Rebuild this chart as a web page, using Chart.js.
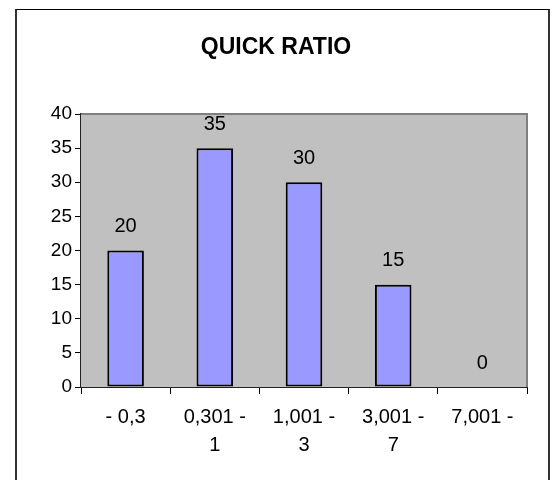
<!DOCTYPE html>
<html>
<head>
<meta charset="utf-8">
<script src="https://cdn.jsdelivr.net/npm/chart.js@4/dist/chart.umd.min.js"></script>
<style>
  html, body { margin: 0; padding: 0; background: #fff; }
  #wrap { position: relative; width: 552px; height: 480px; overflow: hidden; }
  #frame {
    position: absolute; left: 15px; top: 9px; width: 535px; height: 520px;
    box-sizing: border-box;
    border-top: 1px solid #000;
    border-left: 2px solid #333;
    border-right: 2px solid #333;
  }
  #chart { position: absolute; left: 0; top: 0; }
</style>
</head>
<body>
<div id="wrap">
  <div id="frame"></div>
  <canvas id="chart" width="552" height="480"></canvas>
</div>
<script>
// Quick ratio ranges and number of companies in each range
const categories = [["- 0,3"], ["0,301 -", "1"], ["1,001 -", "3"], ["3,001 -", "7"], ["7,001 -"]];
const counts = [20, 35, 30, 15, 0];
const yTicks = [0, 5, 10, 15, 20, 25, 30, 35, 40];

const FONT = "'Liberation Sans', Arial, sans-serif";

// Grey plot background with a darker top/right edge
const plotBackground = {
  id: 'plotBackground',
  beforeDatasetsDraw(chart) {
    const { ctx, chartArea: a } = chart;
    ctx.save();
    ctx.fillStyle = '#c0c0c0';
    ctx.fillRect(a.left, a.top, a.right - a.left, a.bottom - a.top);
    ctx.strokeStyle = '#808080';
    ctx.lineWidth = 2;
    ctx.beginPath();
    ctx.moveTo(a.left, a.top);
    ctx.lineTo(a.right, a.top);
    ctx.lineTo(a.right, a.bottom);
    ctx.stroke();
    ctx.restore();
  }
};

// Value printed above every bar
const valueLabels = {
  id: 'valueLabels',
  afterDatasetsDraw(chart) {
    const { ctx } = chart;
    const meta = chart.getDatasetMeta(0);
    ctx.save();
    ctx.font = '20px ' + FONT;
    ctx.fillStyle = '#000';
    ctx.textAlign = 'center';
    ctx.textBaseline = 'middle';
    meta.data.forEach((bar, i) => {
      ctx.fillText(String(counts[i]), bar.x, bar.y - 24);
    });
    ctx.restore();
  }
};

new Chart(document.getElementById('chart'), {
  type: 'bar',
  data: {
    labels: categories,
    datasets: [{
      data: counts,
      backgroundColor: '#9999ff',
      borderColor: '#000',
      borderWidth: ctx => (counts[ctx.dataIndex] === 0 ? 0 : 2),
      borderSkipped: false,
      categoryPercentage: 1,
      barPercentage: 0.41
    }]
  },
  options: {
    responsive: false,
    animation: false,
    events: [],
    layout: { padding: { left: 25, right: 25, top: 0, bottom: 0 } },
    plugins: {
      legend: { display: false },
      tooltip: { enabled: false },
      title: {
        display: true,
        text: 'QUICK RATIO',
        color: '#000',
        font: { family: FONT, size: 23, weight: 'bold', lineHeight: 1.2 },
        padding: { top: 34, bottom: 52.4 }
      }
    },
    scales: {
      x: {
        offset: true,
        grid: {
          offset: true,
          drawOnChartArea: false,
          drawTicks: true,
          tickLength: 7,
          color: '#000',
          lineWidth: 1
        },
        border: { display: true, color: '#222', width: 2 },
        ticks: {
          color: '#000',
          padding: 9,
          maxRotation: 0,
          autoSkip: false,
          font: { family: FONT, size: 20, lineHeight: 1.4 }
        },
        afterFit(scale) { scale.height = 93; }
      },
      y: {
        min: 0,
        max: 40,
        afterBuildTicks(scale) { scale.ticks = yTicks.map(v => ({ value: v })); },
        grid: {
          drawOnChartArea: false,
          drawTicks: true,
          tickLength: 6,
          color: '#000',
          lineWidth: 1
        },
        border: { display: true, color: '#222', width: 2 },
        ticks: {
          color: '#000',
          padding: 3,
          font: { family: FONT, size: 19 }
        },
        afterFit(scale) { scale.width = 56; }
      }
    }
  },
  plugins: [plotBackground, valueLabels]
});
</script>
</body>
</html>
